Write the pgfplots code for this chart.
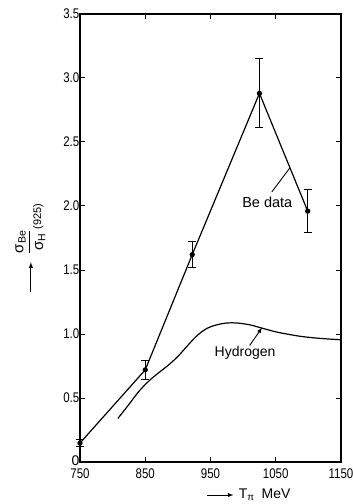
\documentclass[border=0pt]{standalone}
\usepackage{fontspec}
\setmainfont{Liberation Sans}
\usepackage{amsmath}
\usepackage{graphicx}
\usepackage{pgfplots}
\pgfplotsset{compat=1.18}
\begin{document}
\begin{tikzpicture}
\begin{axis}[
  name=ax,
  scale only axis,
  width=261pt, height=448pt,
  xmin=750, xmax=1150, ymin=0, ymax=3.5,
  xtick={750,850,950,1050,1150},
  ytick={0,0.5,1,1.5,2,2.5,3,3.5},
  xticklabel={\scalebox{0.82}[1]{\pgfmathprintnumber[assume math mode=true,1000 sep={}]{\tick}}},
  yticklabels={\smash{\raisebox{-3pt}{0}},\scalebox{0.82}[1]{0.5},\scalebox{0.82}[1]{1.0},\scalebox{0.82}[1]{1.5},\scalebox{0.82}[1]{2.0},\scalebox{0.82}[1]{2.5},\scalebox{0.82}[1]{3.0},\scalebox{0.82}[1]{3.5}},
  tick label style={font=\fontsize{14}{16}\selectfont},
  yticklabel style={inner sep=0.5pt},
  xticklabel style={inner sep=0.5pt, yshift=-6pt},
  major tick length=5pt,
  tick style={line width=1pt, black},
  axis line style={line width=1.2pt},
  clip=false,
]
% Be data
\addplot[black, line width=1.2pt, mark=*, mark size=2pt,
  error bars/.cd, y dir=both, y explicit,
  error bar style={line width=1pt},
  error mark options={rotate=90, mark size=4pt, line width=1pt}]
  coordinates {
  (750,0.148) +- (0,0.025)
  (850,0.72) +- (0,0.075)
  (922,1.62) +- (0,0.10)
  (1025,2.88) +- (0,0.27)
  (1099,1.96) +- (0,0.17)
  };
% Hydrogen
\addplot[black, line width=1.2pt, smooth, tension=0.6] coordinates {
  (808,0.34) (825,0.45) (840,0.55) (855,0.63) (870,0.695) (885,0.755)
  (900,0.825) (915,0.91) (930,0.99) (945,1.045) (960,1.072) (975,1.086)
  (990,1.086) (1010,1.072) (1026,1.05) (1050,1.017) (1070,0.997)
  (1092,0.979) (1120,0.965) (1150,0.955)
};
% annotations
\node[font=\fontsize{14.5}{16}\selectfont] at (axis cs:1037,2.03) {Be data};
\draw[line width=0.9pt] (axis cs:1044,2.11) -- (axis cs:1072,2.30);
\node[font=\fontsize{14}{16}\selectfont] at (axis cs:1003,0.85) {Hydrogen};
\draw[line width=0.9pt,-latex] (axis cs:1010,0.91) -- (axis cs:1029,1.05);
% y label
\node[rotate=90, font=\fontsize{15}{17}\selectfont] at (rel axis cs:-0.19,0.52)
  {$\dfrac{\text{σ}_{\text{Be}}}{\text{σ}_{\text{H}}}$\raisebox{-1.0ex}{\fontsize{11}{12}\selectfont(925)}};
\draw[line width=1pt,-latex] (rel axis cs:-0.188,0.379) -- (rel axis cs:-0.188,0.446);
% x label
\draw[line width=0.9pt,-latex] (rel axis cs:0.487,-0.0737) -- (rel axis cs:0.588,-0.0737);
\node[anchor=west, font=\fontsize{14}{16}\selectfont] at (rel axis cs:0.595,-0.0737)
  {T\textsubscript{π}\enspace MeV};
\end{axis}
\pgfresetboundingbox
\path (ax.south west) ++(-80pt,-42pt) rectangle ++(353pt,504pt);
\end{tikzpicture}
\end{document}
